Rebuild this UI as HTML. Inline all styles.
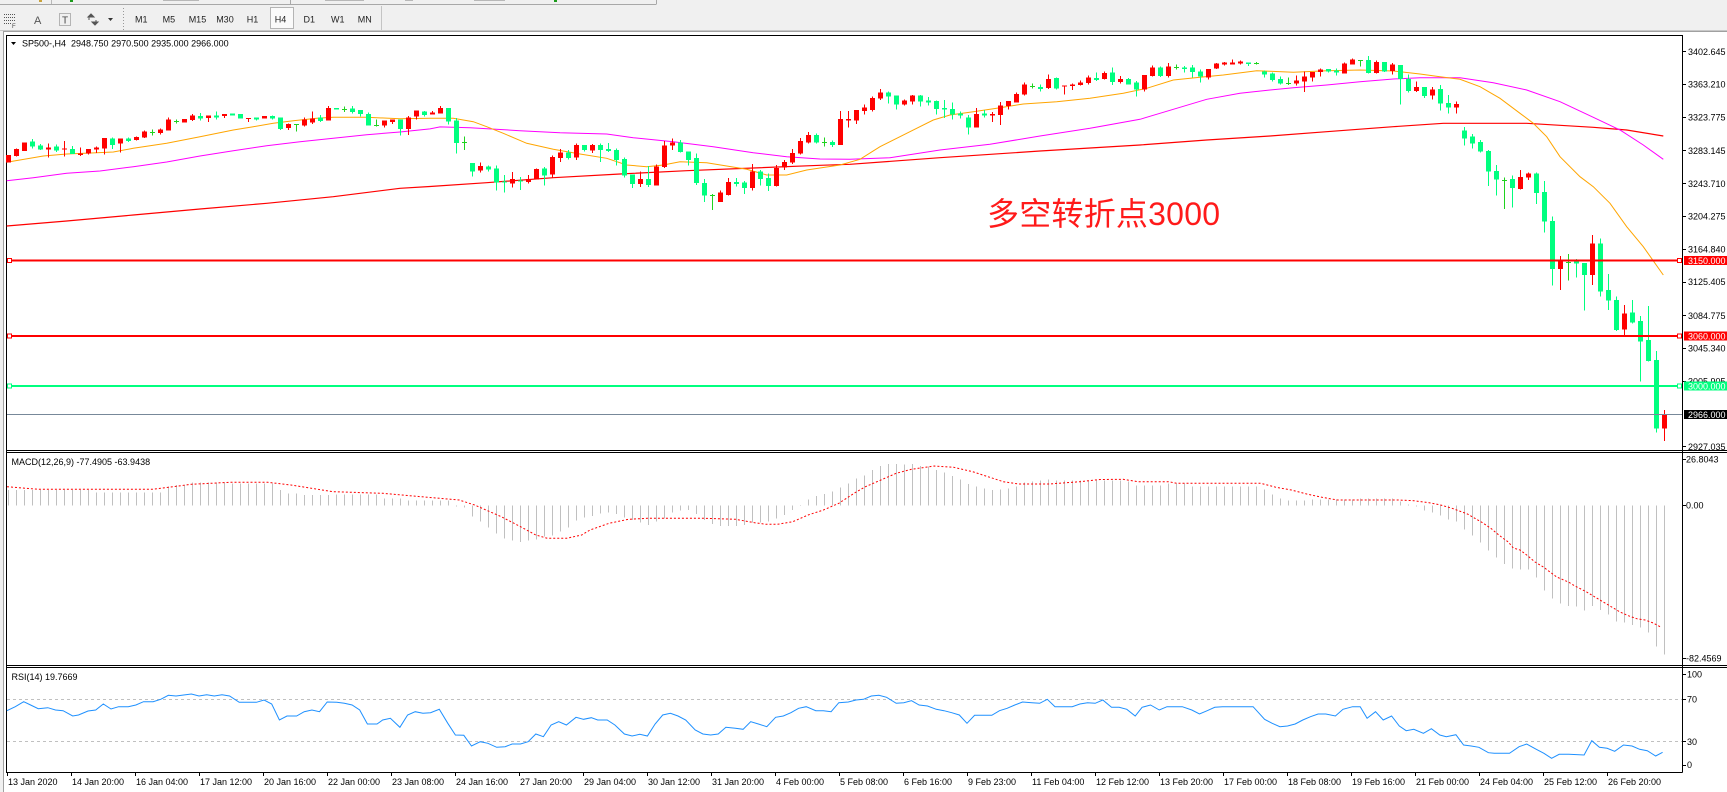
<!DOCTYPE html>
<html><head><meta charset="utf-8">
<style>
html,body{margin:0;padding:0;background:#fff;overflow:hidden;width:1727px;height:792px}
svg{display:block}
text{font-family:"Liberation Sans",sans-serif;font-size:9px}
</style></head><body>
<svg width="1727" height="792" viewBox="0 0 1727 792" xmlns="http://www.w3.org/2000/svg">
<rect width="1727" height="792" fill="#fff"/>
<!-- toolbar -->
<rect width="1727" height="31" fill="#f0f0f0"/>
<g shape-rendering="crispEdges">
<path d="M0 4.5H656M656.5 0V4.5M290.5 0V4.5" stroke="#a8a8a8" fill="none"/>
<rect x="70" y="0" width="3" height="2" fill="#1a9a1a"/>
<rect x="39" y="0" width="3" height="2" fill="#c9a23a"/>
<rect x="554" y="0" width="3" height="2" fill="#1a9a1a"/>
<path d="M51.5 0V4M163 0.5H199M325 0.5H364M474 0.5H505M405 0.5H413" stroke="#b8b8b8" fill="none"/>
<path d="M0 30.5H1727" stroke="#c8c8c8"/>
<path d="M0 31.5H1727" stroke="#a0a0a0"/>
<rect x="0" y="31" width="3" height="761" fill="#f0f0f0"/>
<path d="M3.5 31V792" stroke="#a0a0a0"/>
<!-- toolbar row 2 icons -->
<path d="M4 14.5H15M4 17.5H15M4 20.5H15M4 23.5H11" stroke="#555" stroke-dasharray="1,1"/>
<path d="M123.5 8V30" stroke="#999" stroke-dasharray="1,2"/>
<rect x="59.5" y="13.5" width="11" height="12" fill="none" stroke="#777" stroke-dasharray="1,1"/>
<rect x="270.5" y="7.5" width="23" height="21" fill="#fafafa" stroke="#b4b4b4"/>
<path d="M381.5 6V30" stroke="#c4c4c4"/>
</g>
<text x="12" y="28" style="font-size:6px" fill="#444">F</text>
<text x="34" y="24" style="font-size:11px" fill="#555">A</text>
<text x="62" y="23.5" style="font-size:10px" fill="#444">T</text>
<path d="M88 17l3-3 3 3zM92 22l3 3 3-3zM89 16v4M96 20v4" fill="#555" stroke="#555" stroke-width="1"/>
<path d="M108 18h5l-2.5 3z" fill="#333"/>
<g fill="#222">
<text x="135" y="22.5">M1</text>
<text x="162.6" y="22.5">M5</text>
<text x="188.7" y="22.5">M15</text>
<text x="216.2" y="22.5">M30</text>
<text x="246.8" y="22.5">H1</text>
<text x="274.8" y="22.5">H4</text>
<text x="303.5" y="22.5">D1</text>
<text x="331" y="22.5">W1</text>
<text x="357.8" y="22.5">MN</text>
</g>

<!-- pane frames -->
<g shape-rendering="crispEdges" fill="none" stroke="#000">
<path d="M6 35.5H1682.5M6.5 35V772.5M1682.5 35V772.5M6 450.5H1727M6 452.5H1727M6 665.5H1727M6 667.5H1727M6 772.5H1682.5"/>
</g>

<!-- header -->
<path d="M11 42h5l-2.5 3z" fill="#000"/>
<text x="22" y="46.5" fill="#000" style="white-space:pre">SP500-,H4  2948.750 2970.500 2935.000 2966.000</text>

<!-- Red MA -->
<polyline fill="none" stroke="#ff0000" stroke-width="1.2" points="6.7,226 66.7,221 133.3,215 200,209 266.7,203.3 333.3,196.7 400,188.3 430,186.5 486.7,182.7 553.3,177.7 620,174 686.7,170.7 753.3,168 820,165.3 850,164.3 940,157.7 1040,151 1140,145 1206.7,140 1270,136 1326.7,131.7 1393.3,126.7 1443.3,123.3 1526.7,123.3 1593.3,127.3 1626.7,130 1663.3,136"/>
<!-- Magenta MA -->
<polyline fill="none" stroke="#ff00ff" stroke-width="1" points="6.7,180.7 33.3,177.7 66.7,173.3 100,171 133.3,166.7 166.7,162 200,156 233.3,150.7 266.7,145.7 300,141.7 333.3,138.3 366.7,134.7 400,132 430,128.9 440,126.9 470,127.7 520,130.7 560,132.7 606.7,134 633.3,137.7 673.3,141.7 713.3,146.7 753.3,152.7 786.7,156.7 820,159 850,159.3 890,157.7 940,150 990,144.3 1040,136 1090,128.3 1140,119.3 1173.3,109.3 1206.7,99.3 1240,93.3 1270,90 1293.3,87.7 1326.7,85 1360,81.7 1393.3,79 1420,77.7 1460,77.7 1493.3,82.7 1526.7,90 1560,101.7 1593.3,117.3 1620,130 1643.3,145 1663.3,159.3"/>
<!-- Orange MA -->
<polyline fill="none" stroke="#ffa500" stroke-width="1" points="6.7,162.3 43.3,156 66.7,154 96.7,152.7 113.3,152 133.3,148.3 166.7,143.3 200,136.7 233.3,130 253.3,126.7 273.3,123.3 293.3,120.7 316.7,118.3 333.3,117.3 366.7,117.3 400,118.7 430,118.3 453.3,118.3 473.3,121.7 486.7,126.7 503.3,133.3 526.7,143.3 553.3,149.3 580,154 606.7,158.3 626.7,165 646.7,166.7 663.3,165 680,161.7 706.7,162.7 726.7,166 746.7,169.3 766.7,175 786.7,175 806.7,170 833.3,166 840,165 860,159.3 880,146.7 906.7,133.3 933.3,120 950,115 973.3,111.7 996.7,108.3 1023.3,104 1056.7,101.7 1090,98.3 1123.3,93.3 1146.7,88.3 1173.3,80 1200,77.3 1223.3,75 1256.7,70.7 1270,71.3 1293.3,72.3 1326.7,70.7 1360,70 1393.3,71 1420,74 1440,76.7 1460,79.3 1480,86.7 1500,98.3 1520,113.3 1533.3,123.3 1546.7,136.7 1560,156.7 1580,176.7 1593.3,186.7 1610,203.3 1626.7,226.7 1643.3,246.7 1663.3,275"/>

<!-- candles -->
<g shape-rendering="crispEdges">
<path fill="none" stroke="#ff0000" d="M8.5 155V162.7M16.5 148.3V156.7M24.5 142.3V151M48.5 143.3V157.7M64.5 141V156.7M80.5 147.7V156M88.5 149V154.3M96.5 146.7V153M104.5 138V154.3M120.5 138.7V152.7M136.5 136.3V140.3M144.5 130.7V138M160.5 128.7V134.7M168.5 117.3V130.7M184.5 119V122.7M192.5 114V121M208.5 115.3V122M224.5 114V118M248.5 118V122M264.5 116V118.7M288.5 123.3V130M304.5 117.3V126.7M312.5 111.7V124M328.5 106V120.7M384.5 120.7V127.7M392.5 119.3V124M408.5 116V135M416.5 110.3V119.3M432.5 111V114.7M440.5 106V113.7M480.5 162.7V172.7M512.5 172V187.7M528.5 175V183.7M536.5 168.3V179.3M552.5 155.3V178M560.5 149V162M576.5 143.7V160M592.5 144V153M640.5 171.3V187M656.5 164.3V185.7M664.5 141V168M672.5 138.7V150M720.5 190.3V202M728.5 178V195.7M752.5 164V190.7M776.5 165V186.7M784.5 160V170M792.5 149V164M800.5 138V154.7M808.5 132V143.3M840.5 111V145M848.5 111V127.7M856.5 110V124M864.5 104.7V114.7M872.5 96.3V111.3M880.5 89V100M904.5 99.7V105.7M912.5 95V104.3M976.5 108V127.7M992.5 112V122M1000.5 102V125M1008.5 101V109.3M1016.5 92.3V102.7M1024.5 82.7V95.7M1048.5 74.7V89M1064.5 85.3V94.3M1072.5 83.3V90M1080.5 80.7V85.7M1088.5 75.7V84.7M1104.5 71.7V79.3M1120.5 76V83.7M1144.5 75V91.7M1152.5 65.7V76.7M1168.5 63V77.3M1208.5 69V79.3M1216.5 63V69M1224.5 62V65.7M1232.5 59.3V64.7M1240.5 60.7V64.7M1296.5 75.3V85.3M1304.5 71.7V92M1312.5 72V81.7M1320.5 68.7V76.7M1344.5 62.3V73.7M1352.5 58.7V64.7M1376.5 60.7V73.7M1392.5 63V74.7M1416.5 81.7V92M1432.5 87V99.7M1456.5 101.7V113.7M1520.5 170V189.3M1528.5 172.3V180M1560.5 256V290M1592.5 235V285M1624.5 305V336.7M1664.5 410V441"/>
<path fill="#ff0000" d="M6 155h5v7.7h-5zM14 149h5v7h-5zM22 142.3h5v8.7h-5zM46 147.7h5v2h-5zM62 148.5h5v1h-5zM78 153.3h5v1.7h-5zM86 149h5v4.3h-5zM94 147.7h5v1.6h-5zM102 138h5v10.7h-5zM118 138.7h5v5h-5zM134 137h5v3h-5zM142 131.7h5v6h-5zM158 129.7h5v3.3h-5zM166 119.7h5v11h-5zM182 119h5v3.7h-5zM190 115.7h5v4.3h-5zM206 115.3h5v2.7h-5zM222 114h5v2h-5zM246 118h5v1h-5zM262 116h5v2.7h-5zM286 124h5v4h-5zM302 119.7h5v5.6h-5zM310 118.3h5v4h-5zM326 108h5v12.7h-5zM382 120.7h5v4.6h-5zM390 119.3h5v2.7h-5zM406 117.3h5v11.7h-5zM414 110.3h5v6.4h-5zM430 112.7h5v2h-5zM438 108h5v5.7h-5zM478 166h5v4.7h-5zM510 179h5v4.7h-5zM526 179h5v3h-5zM534 169h5v10.3h-5zM550 157h5v17.7h-5zM558 152.7h5v5.3h-5zM574 145h5v12.7h-5zM590 145h5v5.7h-5zM638 179h5v5h-5zM654 166.3h5v19.4h-5zM662 145.7h5v21.3h-5zM670 142.7h5v3h-5zM718 192.7h5v9.3h-5zM726 182h5v13h-5zM750 171.3h5v16.7h-5zM774 168h5v18h-5zM782 162h5v5.7h-5zM790 153h5v9.7h-5zM798 141h5v12.3h-5zM806 135h5v7.3h-5zM838 119h5v26h-5zM846 119h5v1.7h-5zM854 110h5v10.7h-5zM862 107.3h5v3.7h-5zM870 98h5v12h-5zM878 92.7h5v6h-5zM902 100.7h5v4h-5zM910 95.7h5v6h-5zM974 114h5v13.7h-5zM990 114h5v1.7h-5zM998 105.3h5v9.7h-5zM1006 101h5v5h-5zM1014 94h5v8.7h-5zM1022 84.7h5v10h-5zM1046 79h5v9h-5zM1062 85.3h5v1.4h-5zM1070 84.3h5v1.7h-5zM1078 82.3h5v2.7h-5zM1086 77.7h5v5.3h-5zM1102 73h5v6h-5zM1118 79h5v3h-5zM1142 75h5v14.3h-5zM1150 67.7h5v8.3h-5zM1166 66.7h5v9.3h-5zM1206 69h5v8.3h-5zM1214 63.7h5v5h-5zM1222 62.7h5v2h-5zM1230 62.7h5v2h-5zM1238 61.7h5v1.6h-5zM1294 80.7h5v3h-5zM1302 76.3h5v5.4h-5zM1310 72h5v5.7h-5zM1318 69.7h5v2.3h-5zM1342 63.7h5v9.6h-5zM1350 59.7h5v5h-5zM1374 62h5v11h-5zM1390 64.7h5v6.3h-5zM1414 87h5v4h-5zM1430 89.3h5v6.4h-5zM1454 104h5v3.7h-5zM1518 177h5v12h-5zM1526 173.3h5v4.4h-5zM1558 260.7h5v8.3h-5zM1590 243.3h5v31.7h-5zM1622 313.3h5v16h-5zM1662 414.3h5v14h-5z"/>
<path fill="none" stroke="#00ff7f" d="M32.5 139V148.3M40.5 144V150M56.5 144.3V152M72.5 146V154M112.5 137.7V149M128.5 137.7V142M200.5 113V120.7M216.5 111.7V119.3M232.5 113.3V115.3M240.5 114V118.7M256.5 117.3V120.7M272.5 115.3V119.3M280.5 117.3V130M320.5 115V122M336.5 108V109.7M352.5 106V113.3M360.5 110V116.7M368.5 112.7V125.7M400.5 119.3V135.7M424.5 111V116.7M448.5 108V124.3M456.5 118V153.7M472.5 163V176.7M488.5 165.7V171.7M496.5 165.3V190.7M504.5 175V192.7M520.5 177V190M544.5 167V185.7M568.5 150V159.3M584.5 145V151.7M600.5 143.3V162M608.5 143V152M616.5 148.3V165.7M624.5 157.7V177.7M632.5 174.7V188M648.5 166V187M680.5 140V152.7M688.5 151.7V165.7M696.5 153.3V185M704.5 179V202M736.5 178V186.7M744.5 181V194M760.5 170V185.3M768.5 173.3V191M816.5 133.3V143.3M832.5 140.3V147M888.5 91.7V103.3M896.5 95.7V109.7M920.5 95V106.7M928.5 97V105.7M936.5 100.3V114.7M944.5 100V118M952.5 102.7V119.3M960.5 111.3V118.7M968.5 115V134.3M984.5 110V117.3M1040.5 84.7V91.3M1056.5 77.3V89.7M1096.5 72.7V81M1112.5 67.7V85M1128.5 78V84.7M1136.5 81V96.3M1160.5 66.7V77M1184.5 66V72.3M1192.5 65V77.3M1200.5 69.7V82.3M1248.5 62.3V66M1264.5 70.7V77.3M1272.5 72.3V81.7M1280.5 76.3V84.7M1328.5 69V72.7M1336.5 68.7V75.7M1368.5 56V73.7M1384.5 62V72M1400.5 65V104.7M1408.5 74.3V92.7M1424.5 87V98M1440.5 85V110.7M1448.5 95V113.7M1464.5 127V145.7M1472.5 134V148.3M1480.5 140V152.7M1488.5 150V186M1496.5 165V195.7M1512.5 175.7V207.7M1536.5 172.7V204M1544.5 181V232.7M1552.5 216.7V285.7M1576.5 259V277.3M1584.5 263V310.7M1600.5 238.3V296.7M1608.5 274V310M1616.5 296.7V331M1632.5 300V323.3M1640.5 316V381.7M1648.5 306V361.7M1656.5 351V432.7"/>
<path fill="#00ff7f" d="M30 141.7h5v5h-5zM38 145.7h5v3.6h-5zM54 146.3h5v4.4h-5zM70 149h5v5h-5zM110 138.7h5v6.3h-5zM126 138.7h5v2.3h-5zM198 116h5v2.7h-5zM214 115.3h5v2h-5zM230 113.3h5v2h-5zM238 114h5v4.7h-5zM254 117.3h5v2h-5zM270 116h5v2.7h-5zM278 117.3h5v11.7h-5zM318 117.7h5v3.3h-5zM334 108h5v1.7h-5zM350 108.7h5v3.3h-5zM358 110h5v4h-5zM366 114h5v11.7h-5zM398 119.3h5v9.7h-5zM422 111.7h5v3.3h-5zM446 108h5v13.7h-5zM454 120.7h5v22.3h-5zM470 163h5v8.7h-5zM486 166.7h5v2.6h-5zM494 168.7h5v13.6h-5zM502 181.3h5v1h-5zM518 180.3h5v1.4h-5zM542 168.7h5v6.6h-5zM566 152.3h5v5.7h-5zM582 145h5v5h-5zM598 145h5v5h-5zM606 149h5v2h-5zM614 150h5v10h-5zM622 159h5v16.7h-5zM630 174.7h5v9.3h-5zM646 179h5v6h-5zM678 142.7h5v9.3h-5zM686 151.7h5v8.3h-5zM694 158h5v25h-5zM702 183h5v12.7h-5zM734 182h5v2h-5zM742 182.7h5v5.3h-5zM758 171.3h5v7.7h-5zM766 178h5v8h-5zM814 135h5v7.7h-5zM830 142h5v3h-5zM886 92.3h5v4h-5zM894 95.7h5v9h-5zM918 95.7h5v6h-5zM926 100.3h5v2.4h-5zM934 101h5v8h-5zM942 108h5v1.3h-5zM950 109h5v5.7h-5zM958 113.3h5v2h-5zM966 117.3h5v10h-5zM982 113.3h5v2.4h-5zM1038 87h5v2h-5zM1054 78h5v10.7h-5zM1094 78h5v2h-5zM1110 72.7h5v9.3h-5zM1126 79h5v5.7h-5zM1134 82.7h5v6.6h-5zM1158 67.7h5v8.3h-5zM1182 67.3h5v1.7h-5zM1190 67.7h5v4.3h-5zM1198 71.7h5v5h-5zM1246 62.3h5v1.7h-5zM1262 71.7h5v2.6h-5zM1270 73.7h5v6.3h-5zM1278 79h5v4.7h-5zM1326 69h5v2.7h-5zM1334 70.3h5v2h-5zM1366 60h5v13h-5zM1382 62h5v9.7h-5zM1398 65h5v14h-5zM1406 79h5v12h-5zM1422 87h5v9h-5zM1438 89h5v14.7h-5zM1446 103h5v4.7h-5zM1462 130.7h5v8h-5zM1470 136.7h5v7h-5zM1478 142h5v9.7h-5zM1486 151h5v20.7h-5zM1494 171h5v8.7h-5zM1510 179h5v9h-5zM1534 173.3h5v19.7h-5zM1542 192h5v29.7h-5zM1550 221h5v48h-5zM1574 260.7h5v2.6h-5zM1582 263h5v12h-5zM1598 243.3h5v48.4h-5zM1606 290h5v10.7h-5zM1614 300h5v30h-5zM1630 312.3h5v10h-5zM1638 321h5v20.7h-5zM1646 340h5v21h-5zM1654 360h5v68.3h-5z"/>
<path fill="none" stroke="#1fd31f" d="M152.5 129.7V135.3M150 132.5H155M176.5 119.3V123.3M174 121.5H179M296.5 124.3V131.7M294 124.5H299M344.5 106.7V112M342 109.5H347M376.5 119.3V126.7M374 125.5H379M464.5 136.7V150M462 142.5H467M712.5 194V210M710 195.5H715M824.5 137.7V146.7M822 142.5H827M1032.5 83.3V88.7M1030 86.5H1035M1176.5 64.7V69.3M1174 67.5H1179M1256.5 62V64.7M1254 63.5H1259M1288.5 77.7V85M1286 83.5H1291M1360.5 60V66.7M1358 60.5H1363M1504.5 177.7V209M1502 180.5H1507M1568.5 254V280.7M1566 262.5H1571"/>
</g>

<!-- horizontal lines -->
<g shape-rendering="crispEdges">
<path d="M7 260.5H1682" stroke="#ff0000" stroke-width="2"/>
<path d="M7 336H1682" stroke="#ff0000" stroke-width="2"/>
<path d="M7 386H1682" stroke="#00ff7f" stroke-width="2"/>
<path d="M7 414.5H1682" stroke="#778899" stroke-width="1"/>
<rect x="7.5" y="258.5" width="4" height="4" fill="#fff" stroke="#ff0000"/>
<rect x="1677.5" y="258.5" width="4" height="4" fill="#fff" stroke="#ff0000"/>
<rect x="7.5" y="334" width="4" height="4" fill="#fff" stroke="#ff0000"/>
<rect x="1677.5" y="334" width="4" height="4" fill="#fff" stroke="#ff0000"/>
<rect x="7.5" y="384" width="4" height="4" fill="#fff" stroke="#00ff7f"/>
<rect x="1677.5" y="384" width="4" height="4" fill="#fff" stroke="#00ff7f"/>
</g>

<!-- annotation -->
<text x="987" y="225" textLength="233" fill="#ff1a1a" style="font-family:'Liberation Sans','Noto Sans CJK SC',sans-serif;font-size:32px">多空转折点3000</text>

<!-- price axis -->
<g shape-rendering="crispEdges" stroke="#000">
<path d="M1682 51.5h4M1682 84.5h4M1682 117.5h4M1682 150.5h4M1682 183.5h4M1682 216.5h4M1682 249.5h4M1682 282.5h4M1682 315.5h4M1682 348.5h4M1682 381.5h4M1682 446.5h4M1682 459.5h4M1682 505.5h4M1682 658.5h4M1682 674.5h4M1682 699.5h4M1682 741.5h4M1682 765.5h4"/>
</g>
<g fill="#000">
<text x="1688" y="55">3402.645</text>
<text x="1688" y="87.7">3363.210</text>
<text x="1688" y="120.4">3323.775</text>
<text x="1688" y="153.8">3283.145</text>
<text x="1688" y="186.9">3243.710</text>
<text x="1688" y="219.6">3204.275</text>
<text x="1688" y="252.4">3164.840</text>
<text x="1688" y="285.1">3125.405</text>
<text x="1688" y="318.9">3084.775</text>
<text x="1688" y="351.6">3045.340</text>
<text x="1688" y="384.4">3005.905</text>
<text x="1688" y="449.9">2927.035</text>
<text x="1686" y="462.5">26.8043</text>
<text x="1686" y="508.5">0.00</text>
<text x="1686" y="661.5">-82.4569</text>
<text x="1687" y="677.5">100</text>
<text x="1687" y="702.5">70</text>
<text x="1687" y="744.9">30</text>
<text x="1687" y="768.2">0</text>
</g>
<g shape-rendering="crispEdges">
<rect x="1684" y="256" width="43" height="9" fill="#ff0000"/>
<rect x="1684" y="331.5" width="43" height="9" fill="#ff0000"/>
<rect x="1684" y="381.5" width="43" height="9" fill="#00ff7f"/>
<rect x="1684" y="410" width="43" height="9" fill="#000"/>
</g>
<g fill="#fff">
<text x="1688" y="263.8">3150.000</text>
<text x="1688" y="339.3">3060.000</text>
<text x="1688" y="389.3">3000.000</text>
<text x="1688" y="417.8">2966.000</text>
</g>

<!-- MACD -->
<text x="11.5" y="465" fill="#000">MACD(12,26,9) -77.4905 -63.9438</text>
<path shape-rendering="crispEdges" fill="none" stroke="#c0c0c0" d="M8.5 505.5V490M16.5 505.5V490M24.5 505.5V490M32.5 505.5V490M40.5 505.5V490M48.5 505.5V490M56.5 505.5V490M64.5 505.5V490M72.5 505.5V490M80.5 505.5V490M88.5 505.5V490M96.5 505.5V492.5M104.5 505.5V492.5M112.5 505.5V492.5M120.5 505.5V492.5M128.5 505.5V492.5M136.5 505.5V492.5M144.5 505.5V492.5M152.5 505.5V492.5M160.5 505.5V492.5M168.5 505.5V486.5M176.5 505.5V485M184.5 505.5V485M192.5 505.5V482.5M200.5 505.5V482.5M208.5 505.5V482.5M216.5 505.5V482.5M224.5 505.5V482.5M232.5 505.5V483.5M240.5 505.5V483.5M248.5 505.5V483.5M256.5 505.5V483.5M264.5 505.5V483.5M272.5 505.5V483.5M280.5 505.5V490M288.5 505.5V493.5M296.5 505.5V493.5M304.5 505.5V495M312.5 505.5V495M320.5 505.5V495M328.5 505.5V495M336.5 505.5V494.5M344.5 505.5V494.5M352.5 505.5V494.5M360.5 505.5V494.5M368.5 505.5V494.5M376.5 505.5V494.5M384.5 505.5V498.5M392.5 505.5V498.5M400.5 505.5V498.5M408.5 505.5V500.5M416.5 505.5V500.5M424.5 505.5V500.5M432.5 505.5V500.5M440.5 505.5V500.5M448.5 505.5V500.5M456.5 505.5V506.5M464.5 505.5V507.5M472.5 505.5V516.5M480.5 505.5V521.5M488.5 505.5V527.5M496.5 505.5V533.5M504.5 505.5V538.5M512.5 505.5V540.5M520.5 505.5V542M528.5 505.5V540.5M536.5 505.5V539.5M544.5 505.5V536.5M552.5 505.5V535.5M560.5 505.5V531.5M568.5 505.5V527.5M576.5 505.5V520.5M584.5 505.5V517.5M592.5 505.5V516M600.5 505.5V513.5M608.5 505.5V512.5M616.5 505.5V514M624.5 505.5V517.5M632.5 505.5V520M640.5 505.5V522.5M648.5 505.5V525M656.5 505.5V521.5M664.5 505.5V518.5M672.5 505.5V512.5M680.5 505.5V510.5M688.5 505.5V510M696.5 505.5V514M704.5 505.5V520M712.5 505.5V524M720.5 505.5V526M728.5 505.5V526M736.5 505.5V526M744.5 505.5V525M752.5 505.5V522.5M760.5 505.5V522.5M768.5 505.5V521.5M776.5 505.5V518.5M784.5 505.5V515M792.5 505.5V510M800.5 505.5V506M808.5 505.5V499.5M816.5 505.5V496M824.5 505.5V494M832.5 505.5V491.5M840.5 505.5V487.5M848.5 505.5V483.5M856.5 505.5V478.5M864.5 505.5V475.5M872.5 505.5V470M880.5 505.5V466M888.5 505.5V464M896.5 505.5V464M904.5 505.5V464.5M912.5 505.5V464M920.5 505.5V466M928.5 505.5V466.5M936.5 505.5V470M944.5 505.5V472.5M952.5 505.5V476M960.5 505.5V479.5M968.5 505.5V484M976.5 505.5V486.5M984.5 505.5V488.5M992.5 505.5V490M1000.5 505.5V489.5M1008.5 505.5V488.5M1016.5 505.5V486.5M1024.5 505.5V482.5M1032.5 505.5V481.5M1040.5 505.5V480.5M1048.5 505.5V479.5M1056.5 505.5V480.5M1064.5 505.5V480.5M1072.5 505.5V480.5M1080.5 505.5V480.5M1088.5 505.5V480.5M1096.5 505.5V480.5M1104.5 505.5V480.5M1112.5 505.5V480.5M1120.5 505.5V480.5M1128.5 505.5V481.5M1136.5 505.5V485.5M1144.5 505.5V485.5M1152.5 505.5V485.5M1160.5 505.5V485.5M1168.5 505.5V483.5M1176.5 505.5V483.5M1184.5 505.5V483.5M1192.5 505.5V486.5M1200.5 505.5V486.5M1208.5 505.5V486.5M1216.5 505.5V486.5M1224.5 505.5V486.5M1232.5 505.5V486.5M1240.5 505.5V486.5M1248.5 505.5V486.5M1256.5 505.5V486.5M1264.5 505.5V489.5M1272.5 505.5V494.5M1280.5 505.5V498.5M1288.5 505.5V500.5M1296.5 505.5V500.5M1304.5 505.5V500.5M1312.5 505.5V499.5M1320.5 505.5V499.5M1328.5 505.5V499.5M1336.5 505.5V499.5M1344.5 505.5V499.5M1352.5 505.5V499.5M1360.5 505.5V498.5M1368.5 505.5V498.5M1376.5 505.5V498.5M1384.5 505.5V498.5M1392.5 505.5V498.5M1400.5 505.5V501.5M1408.5 505.5V504.5M1416.5 505.5V506.5M1424.5 505.5V510.5M1432.5 505.5V512.5M1440.5 505.5V515.5M1448.5 505.5V519.5M1456.5 505.5V521.5M1464.5 505.5V529.5M1472.5 505.5V535.5M1480.5 505.5V542.5M1488.5 505.5V550.5M1496.5 505.5V557.5M1504.5 505.5V564M1512.5 505.5V568.5M1520.5 505.5V569.5M1528.5 505.5V569.5M1536.5 505.5V577.5M1544.5 505.5V590.5M1552.5 505.5V598.5M1560.5 505.5V603.5M1568.5 505.5V606M1576.5 505.5V606.5M1584.5 505.5V610.5M1592.5 505.5V606M1600.5 505.5V610M1608.5 505.5V614.5M1616.5 505.5V621.5M1624.5 505.5V622.5M1632.5 505.5V625M1640.5 505.5V627.5M1648.5 505.5V632.5M1656.5 505.5V646.5M1664.5 505.5V654.5"/>
<polyline fill="none" stroke="#ff0000" stroke-width="1" stroke-dasharray="2,2" points="7,486.7 38.3,489.3 153,489.3 191.4,484.3 229.6,482.3 267.9,482.3 290.9,485 333,491.7 382.7,493.3 421,496.7 459.2,500 474.6,505 501.3,516.7 520.5,526.7 535.8,535 547.3,538.3 566.4,538.3 581.7,535 590,530 609.1,523.3 628.3,519.3 647.4,518.3 704.8,518.3 735.4,519.3 754.6,522.7 766,524.3 777.5,524.3 792.8,521.7 808.1,515 823.4,510 838.8,503.3 854.1,493.3 865.5,486.7 880.9,480 896.2,473.3 911.5,469.3 934.4,466 953.6,467.3 972.7,471.7 988,476.7 1003.3,481.7 1018.6,484 1049.2,484 1079.9,481.7 1100,479.5 1123,479.3 1138.3,481.7 1168.9,481.7 1176.5,483.3 1260.7,483.3 1276,487.3 1291.4,490 1306.7,494 1322,497.3 1337.3,500 1398.5,500 1413.8,500.7 1429.1,502.7 1440.6,505 1452.1,508.3 1467.4,514 1483,523 1491.7,529 1496.7,533.3 1502.7,538 1508.3,542 1513.3,548 1520,550 1526.7,555 1535,562 1543.3,567 1550,572 1556.7,577 1568.3,582 1575,586 1586.7,592 1593.3,596 1603.3,602 1611.7,607 1620,612 1628.3,615.7 1636.7,618.7 1645,620 1653.3,623 1660,626.7"/>

<!-- RSI -->
<text x="11.5" y="680" fill="#000">RSI(14) 19.7669</text>
<path shape-rendering="crispEdges" d="M7 699.5H1682M7 741.5H1682" stroke="#c0c0c0" stroke-dasharray="3,3"/>
<polyline fill="none" stroke="#1e90ff" stroke-width="1" points="6.9,710.7 15.3,706.7 23.7,701.7 30.6,705 38.3,708.7 47.8,707.7 55.5,710 63.1,710.7 72.7,716 78.5,715 88,711 95.7,710 103.3,704 111,709 118.6,706.7 128.2,706.7 135.9,705 143.5,701.7 153.1,701.7 160.7,699.3 168.4,695.3 176,696 183.7,695 191.4,694 199,696 206.7,694.7 214.3,696 222,694.7 229.6,696 239.2,702.3 248.8,702.3 256.4,702.3 264.1,700 271.7,704 279.4,720 287,716 296.6,716 304.2,711.7 311.9,710 319.5,711.7 327.2,702 336.8,702.3 344.4,703.3 352.1,705 359.7,710 367.4,724 377,724 382.7,720 390.4,718.3 399.9,727.3 407.6,715 415.2,711.7 422.9,713.3 430.5,712.7 439.3,709.3 447.8,723.3 455.4,735 463.8,735.3 471.5,746 480.3,741.7 487.9,743.3 496.7,747.3 505.2,746.7 512.1,744 520.5,744 528.1,741.7 535.8,734 543.4,736.7 551.1,725 558.7,721.7 566.4,725 576,717.3 583.6,719.3 591.3,717.7 597.7,720 607.2,720 614.9,725 624.4,734 632.1,736 639.8,734.3 647.4,736 655.1,724 662.7,715 670.4,713.3 678,716 685.7,720 695.2,730 702.9,734 710.6,735 718.2,734 725.9,727.3 735.4,728.3 743.1,729.3 750.7,721.7 758.4,724 766.8,726.7 775.6,717.3 783.3,716 790.9,712.7 798.6,708.3 806.2,706.7 815.8,710.7 823.4,710.7 831.1,711.7 838.8,702.7 848.3,702 856,700 863.6,699.3 871.3,696 878.9,695.3 886.6,697.3 896.2,703.3 903.8,702.7 911.5,700.7 919.1,705 927.5,706 936.3,709.3 944,710.7 951.7,712.7 959.3,715 967,723.3 974.6,715.3 982.3,715.3 991.8,715.3 999.5,710.7 1007.1,708.3 1014.8,705 1022.5,702 1032,702.7 1039.7,703.3 1047.3,699.3 1055,706.7 1062.6,706.7 1072.2,706.7 1079.9,704 1087.5,702.7 1095.2,703.3 1102.8,700 1111.5,707.3 1119.1,707.3 1126.8,709.3 1135.2,716 1142.1,707.3 1150.5,705 1159.3,710 1167,706.7 1182.3,706.7 1191.8,710 1199.5,714 1207.2,710.7 1214.8,707.3 1222.5,706.7 1253.1,706.7 1264.6,719.3 1272.2,723.3 1279.9,726.7 1287.5,726 1295.2,724 1302.8,720 1310.5,716.7 1318.1,714 1325.8,714 1335.4,716 1343,709.3 1352.6,706.7 1360.2,706.7 1367.1,718.3 1375.5,711.7 1383.2,720 1391.6,716 1399.3,726 1406.2,730.7 1413.8,729.3 1423.4,733.3 1431.4,728.7 1439.8,735 1446.3,736.7 1455.9,734.7 1463.6,745 1471.2,746 1478.9,747.3 1488.4,752.7 1494.2,753.3 1509.5,753.3 1519.1,746.7 1526.7,744 1536.3,749.3 1543.9,753.3 1551.6,758.3 1559.2,754.3 1568.8,754.3 1584.1,755 1591.8,740.7 1599.4,747.3 1607.1,748.3 1614.7,751.3 1623.5,745 1632,746 1639.6,749.3 1647.3,750.7 1655.7,756 1662.6,752.3"/>

<!-- date axis -->
<path shape-rendering="crispEdges" stroke="#000" d="M7.5 772V776M71.5 772V776M135.5 772V776M199.5 772V776M263.5 772V776M327.5 772V776M391.5 772V776M455.5 772V776M519.5 772V776M583.5 772V776M647.5 772V776M711.5 772V776M775.5 772V776M839.5 772V776M903.5 772V776M967.5 772V776M1031.5 772V776M1095.5 772V776M1159.5 772V776M1223.5 772V776M1287.5 772V776M1351.5 772V776M1415.5 772V776M1479.5 772V776M1543.5 772V776M1607.5 772V776"/>
<g fill="#000">
<text x="8" y="785">13 Jan 2020</text>
<text x="72" y="785">14 Jan 20:00</text>
<text x="136" y="785">16 Jan 04:00</text>
<text x="200" y="785">17 Jan 12:00</text>
<text x="264" y="785">20 Jan 16:00</text>
<text x="328" y="785">22 Jan 00:00</text>
<text x="392" y="785">23 Jan 08:00</text>
<text x="456" y="785">24 Jan 16:00</text>
<text x="520" y="785">27 Jan 20:00</text>
<text x="584" y="785">29 Jan 04:00</text>
<text x="648" y="785">30 Jan 12:00</text>
<text x="712" y="785">31 Jan 20:00</text>
<text x="776" y="785">4 Feb 00:00</text>
<text x="840" y="785">5 Feb 08:00</text>
<text x="904" y="785">6 Feb 16:00</text>
<text x="968" y="785">9 Feb 23:00</text>
<text x="1032" y="785">11 Feb 04:00</text>
<text x="1096" y="785">12 Feb 12:00</text>
<text x="1160" y="785">13 Feb 20:00</text>
<text x="1224" y="785">17 Feb 00:00</text>
<text x="1288" y="785">18 Feb 08:00</text>
<text x="1352" y="785">19 Feb 16:00</text>
<text x="1416" y="785">21 Feb 00:00</text>
<text x="1480" y="785">24 Feb 04:00</text>
<text x="1544" y="785">25 Feb 12:00</text>
<text x="1608" y="785">26 Feb 20:00</text>
</g>
</svg>
</body></html>
